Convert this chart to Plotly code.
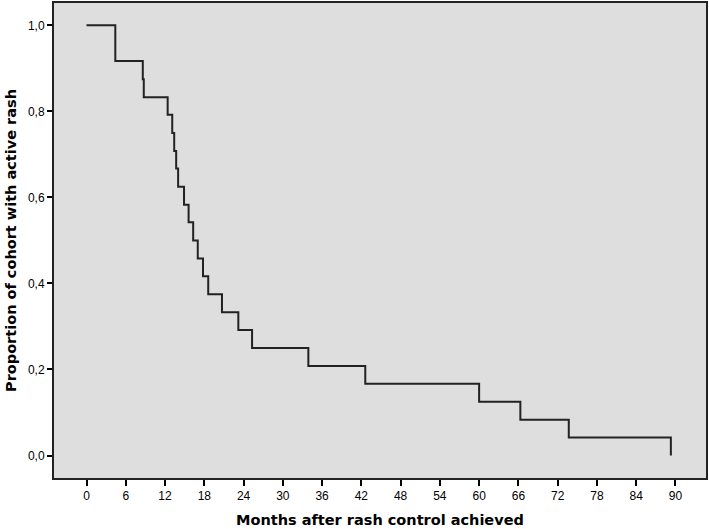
import plotly.graph_objects as go

# Kaplan-Meier style step data (months, proportion still with active rash)
months = [0, 4.4, 8.6, 8.75, 12.4, 13.1, 13.4, 13.7, 14.0, 14.9, 15.6, 16.3,
          17.0, 17.8, 18.6, 20.7, 23.2, 25.3, 33.9, 42.6, 60.0, 66.3, 73.7, 89.3]
proportion = [1.0, 0.917, 0.875, 0.833, 0.792, 0.750, 0.708, 0.667, 0.625,
              0.583, 0.542, 0.500, 0.458, 0.417, 0.375, 0.333, 0.292, 0.250,
              0.208, 0.167, 0.125, 0.083, 0.042, 0.0]

x_ticks = list(range(0, 91, 6))
y_ticks = [0.0, 0.2, 0.4, 0.6, 0.8, 1.0]

fig = go.Figure()
fig.add_trace(go.Scatter(
    x=months, y=proportion, mode='lines', line_shape='hv',
    line=dict(color='#222222', width=2), showlegend=False, hoverinfo='skip'
))

axis_font = dict(family='Liberation Sans, Arial, sans-serif', size=12, color='black')
title_font = dict(family='DejaVu Sans, Verdana, sans-serif', size=14.5, color='black', weight='bold')

fig.update_layout(
    width=709, height=529,
    margin=dict(l=54, r=3, t=3, b=51),
    paper_bgcolor='white',
    plot_bgcolor='#DEDEDE',
    separators=',.',
    xaxis=dict(
        range=[-4.97, 94.67], tickvals=x_ticks, ticks='outside', ticklen=6,
        tickwidth=2, tickcolor='black', showgrid=False, zeroline=False,
        showline=True, mirror=True, linecolor='#222222', linewidth=2,
        tickfont=axis_font,
        title=dict(text='Months after rash control achieved', font=title_font, standoff=12),
        automargin=False
    ),
    yaxis=dict(
        range=[-0.0523, 1.052], tickvals=y_ticks, tickformat='.1f', ticks='outside',
        ticklen=5, tickwidth=2, tickcolor='black', showgrid=False, zeroline=False,
        showline=True, mirror=True, linecolor='#222222', linewidth=2,
        tickfont=axis_font,
        title=dict(text='Proportion of cohort with active rash', font=title_font, standoff=8),
        automargin=False
    ),
)

# drop the default page margin so the figure sits at the window's top-left corner
fig.write_html("out.html", config={'displayModeBar': False},
               post_script="document.body.style.margin='0';")
